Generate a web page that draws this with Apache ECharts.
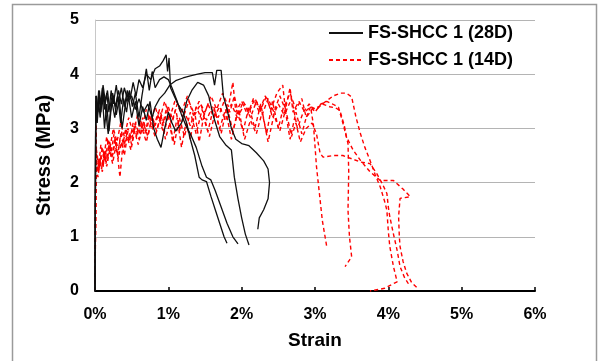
<!DOCTYPE html>
<html>
<head>
<meta charset="utf-8">
<script src="https://cdn.jsdelivr.net/npm/echarts@6/dist/echarts.min.js"></script>
<style>
  html, body { margin: 0; padding: 0; background: #fff; }
  #chart { width: 598px; height: 361px; }
</style>
</head>
<body>
<div id="chart"></div>
<script>
// strain in %, stress in MPa
var xTicks = [0, 1, 2, 3, 4, 5, 6];
var yTicks = [0, 1, 2, 3, 4, 5];
var name28 = 'FS-SHCC 1 (28D)';
var name14 = 'FS-SHCC 1 (14D)';

// 28 day specimens (black, solid)
var k1 = [[0,0],[0.01,3.2],[0.02,3.6],[0.04,3.3],[0.06,3.7],[0.08,3.4],[0.1,3.75],[0.13,3.35],[0.16,3.65],[0.19,3.3],[0.22,3.7],[0.25,3.45],[0.29,3.8],[0.32,3.5],[0.36,3.75],[0.4,3.4],[0.44,3.7],[0.48,3.55],[0.52,3.85],[0.56,3.6],[0.6,3.9],[0.65,3.75],[0.7,4.0],[0.76,3.9],[0.82,4.1],[0.88,4.15],[0.93,4.25],[0.97,4.36],[0.99,4.05],[1.01,4.3],[1.03,3.75],[1.08,3.6],[1.13,3.45],[1.2,3.3],[1.25,3.1],[1.3,2.8],[1.36,2.5],[1.42,2.1],[1.46,2.05],[1.52,2.02],[1.58,1.75],[1.64,1.5],[1.7,1.25],[1.76,1.0],[1.8,0.88]];
var k2 = [[0,0],[0.01,3.4],[0.03,3.1],[0.05,3.5],[0.07,3.2],[0.1,3.6],[0.13,3.0],[0.16,3.45],[0.19,2.95],[0.23,3.5],[0.27,3.2],[0.31,3.6],[0.35,3.1],[0.39,3.55],[0.43,3.3],[0.47,3.7],[0.51,3.4],[0.55,3.65],[0.6,3.2],[0.64,3.6],[0.7,4.1],[0.74,3.7],[0.78,4.05],[0.82,3.75],[0.88,3.9],[0.94,3.95],[1.0,3.9],[1.05,3.75],[1.12,3.5],[1.18,3.25],[1.24,3.05],[1.3,2.9],[1.38,2.65],[1.46,2.3],[1.52,2.1],[1.58,2.05],[1.64,1.85],[1.72,1.55],[1.8,1.25],[1.88,1.0],[1.95,0.87]];
var k3 = [[0,0],[0.01,3.5],[0.03,3.2],[0.05,3.6],[0.08,3.3],[0.11,3.7],[0.14,3.4],[0.18,2.9],[0.21,3.3],[0.25,3.6],[0.29,3.25],[0.33,3.55],[0.37,3.0],[0.41,3.4],[0.45,3.65],[0.5,3.2],[0.55,3.5],[0.6,3.05],[0.65,3.4],[0.7,3.15],[0.75,3.5],[0.8,3.0],[0.85,2.8],[0.9,2.65],[0.95,3.0],[1.0,3.3],[1.05,3.1],[1.1,2.95],[1.18,3.1],[1.25,3.5],[1.32,3.7],[1.4,3.85],[1.48,3.8],[1.55,3.6],[1.62,3.2],[1.7,2.85],[1.78,2.7],[1.86,2.6],[1.9,2.1],[1.95,1.7],[2.0,1.35],[2.05,1.05],[2.1,0.85]];
var k4 = [[0,0],[0.01,3.6],[0.03,3.3],[0.05,3.7],[0.08,3.45],[0.11,3.8],[0.14,3.5],[0.17,3.7],[0.2,3.35],[0.24,3.65],[0.28,3.4],[0.32,3.7],[0.36,3.45],[0.4,3.75],[0.45,3.5],[0.5,3.6],[0.55,3.35],[0.6,3.55],[0.66,3.3],[0.72,3.45],[0.78,3.2],[0.82,3.4],[0.88,3.55],[0.95,3.65],[1.02,3.8],[1.1,3.88],[1.2,3.93],[1.3,3.97],[1.4,4.0],[1.5,4.03],[1.6,4.03],[1.63,3.8],[1.66,4.07],[1.72,4.07],[1.75,3.6],[1.8,3.35],[1.86,3.0],[1.92,2.8],[2.0,2.72],[2.1,2.68],[2.2,2.55],[2.3,2.4],[2.36,2.25],[2.38,2.0],[2.36,1.7],[2.3,1.5],[2.24,1.35],[2.22,1.14]];

// 14 day specimens (red, dashed)
var r1 = [[0,0],[0.01,1.5],[0.015,3.4],[0.02,2.4],[0.05,2.2],[0.08,2.5],[0.11,2.3],[0.14,2.6],[0.17,2.4],[0.2,2.75],[0.24,2.5],[0.28,2.8],[0.32,2.6],[0.36,2.95],[0.4,2.7],[0.45,3.0],[0.5,2.8],[0.55,3.1],[0.6,2.9],[0.65,3.2],[0.7,2.95],[0.76,3.3],[0.82,3.05],[0.88,3.35],[0.94,3.1],[1.0,3.4],[1.06,3.15],[1.12,3.45],[1.2,3.2],[1.28,3.5],[1.36,3.25],[1.44,3.45],[1.52,3.15],[1.6,3.4],[1.68,3.2],[1.76,3.5],[1.84,3.3],[1.9,3.6],[1.96,3.25],[2.04,3.45],[2.12,3.2],[2.2,3.5],[2.28,3.25],[2.36,3.55],[2.44,3.3],[2.52,3.6],[2.58,3.4],[2.66,3.65],[2.74,3.35],[2.82,3.55],[2.88,3.2],[2.94,3.4],[2.98,3.05],[3.02,2.3],[3.06,1.8],[3.1,1.3],[3.16,0.82]];
var r2 = [[0,0],[0.01,2.0],[0.02,2.6],[0.05,2.3],[0.08,2.7],[0.12,2.45],[0.16,2.85],[0.2,2.6],[0.25,3.0],[0.3,2.75],[0.35,3.1],[0.4,2.85],[0.46,3.2],[0.52,2.9],[0.58,3.25],[0.64,3.0],[0.7,3.35],[0.76,3.1],[0.82,3.4],[0.88,3.15],[0.95,3.5],[1.02,3.2],[1.1,3.55],[1.18,3.3],[1.26,3.6],[1.34,3.25],[1.42,3.5],[1.5,3.3],[1.58,3.6],[1.66,3.35],[1.74,3.65],[1.82,3.4],[1.88,3.85],[1.92,3.3],[2.0,3.5],[2.08,3.25],[2.16,3.55],[2.24,3.3],[2.32,3.6],[2.4,3.35],[2.48,3.65],[2.56,3.8],[2.6,3.3],[2.68,3.55],[2.76,3.0],[2.84,3.3],[2.92,3.45],[3.0,3.3],[3.08,3.45],[3.16,3.5],[3.24,3.45],[3.32,3.39],[3.38,3.1],[3.45,2.72],[3.46,2.2],[3.45,1.49],[3.47,1.0],[3.5,0.63],[3.41,0.45]];
var r3 = [[0,0],[0.01,2.5],[0.03,2.2],[0.06,2.45],[0.09,2.25],[0.12,2.55],[0.15,2.35],[0.19,2.7],[0.23,2.45],[0.27,2.8],[0.31,2.5],[0.35,2.9],[0.4,2.65],[0.45,2.95],[0.5,2.7],[0.55,3.05],[0.6,2.8],[0.66,3.1],[0.72,2.85],[0.78,3.2],[0.84,2.95],[0.9,3.25],[0.96,2.8],[1.02,3.1],[1.08,2.7],[1.15,3.2],[1.22,2.85],[1.3,3.3],[1.38,2.9],[1.46,3.35],[1.54,2.95],[1.62,3.4],[1.7,3.0],[1.78,3.35],[1.86,2.8],[1.94,3.3],[2.02,2.95],[2.1,3.4],[2.18,3.0],[2.26,3.45],[2.34,2.9],[2.42,3.5],[2.5,3.0],[2.58,3.45],[2.66,2.8],[2.74,3.3],[2.82,2.9],[2.88,3.2],[2.96,3.35],[3.05,3.4],[3.15,3.5],[3.25,3.6],[3.35,3.65],[3.43,3.65],[3.5,3.58],[3.56,3.2],[3.62,2.9],[3.68,2.65],[3.75,2.41],[3.82,2.15],[3.89,1.92],[3.95,1.65],[3.98,1.49],[4.0,1.1],[4.02,0.82],[4.07,0.45],[4.12,0.17],[3.95,0.05],[3.75,0]];
var r4 = [[0,0],[0.01,2.2],[0.03,2.5],[0.06,2.3],[0.1,2.65],[0.14,2.4],[0.18,2.8],[0.22,2.55],[0.26,2.9],[0.3,2.6],[0.34,2.1],[0.38,2.7],[0.42,3.0],[0.47,2.75],[0.52,3.1],[0.57,2.85],[0.62,3.15],[0.68,2.9],[0.74,3.25],[0.8,3.0],[0.86,3.3],[0.92,3.05],[0.98,3.4],[1.04,3.1],[1.1,3.35],[1.16,2.95],[1.22,3.3],[1.3,3.05],[1.38,3.4],[1.46,3.15],[1.54,3.45],[1.62,3.2],[1.7,3.4],[1.78,3.15],[1.86,3.45],[1.94,3.2],[2.02,3.5],[2.1,3.3],[2.18,3.55],[2.26,3.35],[2.34,3.6],[2.42,3.2],[2.5,3.45],[2.58,3.25],[2.66,3.75],[2.7,3.3],[2.78,3.5],[2.86,3.3],[2.94,3.4],[3.02,3.35],[3.1,3.45],[3.2,3.4],[3.28,3.38],[3.34,3.33],[3.4,3.05],[3.43,2.84],[3.52,2.6],[3.62,2.41],[3.75,2.2],[3.89,2.04],[4.07,2.04],[4.2,1.88],[4.3,1.74],[4.16,1.71],[4.14,1.37],[4.15,1.0],[4.16,0.82],[4.2,0.55],[4.25,0.33],[4.32,0.15],[4.4,0.05]];
var r5 = [[0,0],[0.01,1.8],[0.02,2.3],[0.04,2.1],[0.07,2.4],[0.1,2.2],[0.13,2.5],[0.16,2.3],[0.2,2.6],[0.24,2.35],[0.28,2.65],[0.32,2.45],[0.36,2.75],[0.4,2.5],[0.44,2.85],[0.49,2.6],[0.54,2.95],[0.59,2.7],[0.64,3.0],[0.7,2.75],[0.76,3.1],[0.82,2.85],[0.88,3.15],[0.94,2.9],[1.0,3.25],[1.06,2.75],[1.12,3.2],[1.18,2.65],[1.24,3.1],[1.3,2.8],[1.36,3.3],[1.42,2.75],[1.48,3.2],[1.56,2.85],[1.64,3.3],[1.72,2.9],[1.8,3.4],[1.88,2.95],[1.96,3.35],[2.04,2.8],[2.12,3.15],[2.2,2.9],[2.28,3.3],[2.36,2.75],[2.44,3.25],[2.52,2.95],[2.6,3.35],[2.68,2.85],[2.74,3.1],[2.8,2.75],[2.88,3.0],[2.96,3.1],[3.02,2.9],[3.07,2.54],[3.11,2.47],[3.25,2.5],[3.38,2.5],[3.5,2.44],[3.62,2.38],[3.75,2.35],[3.84,2.17],[3.91,2.0],[3.98,1.8],[4.0,1.55],[4.02,1.37],[4.07,1.05],[4.12,0.75],[4.16,0.45],[4.22,0.25],[4.28,0.12]];

var black = [k1, k2, k3, k4];
var red = [r1, r2, r3, r4, r5];

var font = 'Liberation Sans, Arial';
var chart = echarts.init(document.getElementById('chart'));
var series = [];
black.forEach(function (d) {
  series.push({
    name: name28, type: 'line', data: d, symbol: 'none', z: 3,
    lineStyle: { color: '#111', width: 1.3 },
    itemStyle: { color: '#111' }
  });
});
red.forEach(function (d) {
  series.push({
    name: name14, type: 'line', data: d, symbol: 'none', z: 2,
    lineStyle: { color: '#ff0000', width: 1.4, type: [4, 3] },
    itemStyle: { color: '#ff0000' }
  });
});

var option = {
  animation: false,
  backgroundColor: '#fff',
  graphic: [{
    type: 'rect', silent: true,
    shape: { x: 12.5, y: 4.5, width: 584, height: 400 },
    style: { fill: 'none', stroke: '#9a9a9a', lineWidth: 1.5 }
  }],
  legend: {
    data: [name28, name14],
    orient: 'vertical',
    left: 323, top: 19,
    itemWidth: 34, itemHeight: 12, itemGap: 9,
    itemStyle: { opacity: 0 },
    textStyle: { fontFamily: font, fontWeight: 'bold', fontSize: 18, color: '#000' }
  },
  grid: { left: 95, right: 63, top: 20, bottom: 70 },
  xAxis: {
    type: 'value', min: 0, max: 6, interval: 1,
    name: 'Strain', nameLocation: 'middle', nameGap: 40,
    nameTextStyle: { fontFamily: font, fontWeight: 'bold', fontSize: 19, color: '#000' },
    axisLine: { show: true, lineStyle: { color: '#000', width: 2 } },
    axisTick: { show: true, inside: true, length: 4, lineStyle: { color: '#000', width: 1.5 } },
    axisLabel: {
      formatter: function (v) { return xTicks.indexOf(v) >= 0 ? v + '%' : ''; },
      fontFamily: font, fontWeight: 'bold', fontSize: 16, color: '#000', margin: 16
    },
    splitLine: { show: false }
  },
  yAxis: {
    type: 'value', min: 0, max: 5, interval: 1,
    name: 'Stress (MPa)', nameLocation: 'middle', nameGap: 41,
    nameTextStyle: { fontFamily: font, fontWeight: 'bold', fontSize: 20, color: '#000' },
    axisLine: { show: true, lineStyle: { color: '#c8c8c8', width: 1 } },
    axisTick: { show: false },
    axisLabel: {
      formatter: function (v) { return yTicks.indexOf(v) >= 0 ? String(v) : ''; },
      fontFamily: font, fontWeight: 'bold', fontSize: 16, color: '#000', margin: 16
    },
    splitLine: { show: true, lineStyle: { color: '#b4b4b4', width: 1 } }
  },
  series: series
};
chart.setOption(option);
</script>
</body>
</html>
